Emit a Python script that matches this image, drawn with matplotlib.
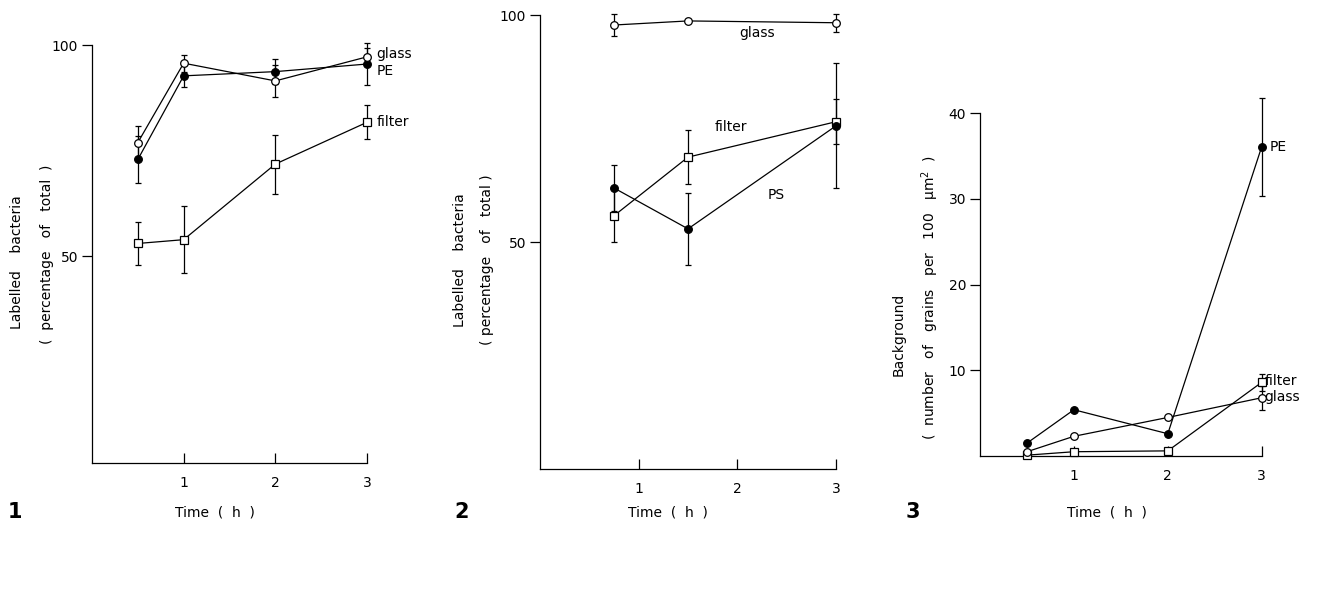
import matplotlib
matplotlib.use('Agg')
from matplotlib import pyplot as plt

plt.rcParams['font.family'] = 'DejaVu Sans'
plt.rcParams['font.size'] = 10

# Fig. 1 - labelled bacteria on glass / PE / filter
t1 = [0.5, 1, 2, 3]
glass1 = [76.9, 95.7, 91.5, 97.2]
glass1_err = [4.0, 2.0, 3.7, 2.0]
pe1 = [72.9, 92.7, 93.7, 95.5]
pe1_err = [5.5, 2.7, 3.0, 5.0]
filter1 = [53.0, 53.9, 71.8, 81.7]
filter1_err = [5.0, 8.0, 7.0, 4.0]

# Fig. 2 - labelled bacteria on glass / filter / PS
t2 = [0.75, 1.5, 3]
glass2 = [97.8, 98.7, 98.3]
glass2_err = [2.5, 0.0, 2.0]
filter2 = [55.8, 68.7, 76.5]
filter2_err = [5.8, 6.0, 5.0]
ps2 = [61.9, 52.9, 75.6]
ps2_err = [5.0, 8.0, 13.8]

# Fig. 3 - background grains
t3 = [0.5, 1, 2, 3]
pe3 = [1.5, 5.4, 2.6, 36.1]
pe3_err = [0, 0, 0, 5.7]
glass3 = [0.5, 2.3, 4.5, 6.8]
glass3_err = [0, 0, 0, 1.4]
filter3 = [0.1, 0.5, 0.6, 8.6]
filter3_err = [0, 0, 0, 1.0]

fig = plt.figure(figsize=(13.22, 5.94), dpi=100)


def series(ax, x, y, err, marker, face):
    ax.errorbar(x, y, yerr=err, color='black', lw=0.9, elinewidth=0.9,
                capsize=2, capthick=0.9, marker=marker, ms=5.5,
                mfc=face, mec='black', mew=0.9, clip_on=False, zorder=3)


def style(ax, yticks, ylim):
    for s in ['top', 'right']:
        ax.spines[s].set_visible(False)
    ax.spines['left'].set_linewidth(0.9)
    ax.spines['bottom'].set_linewidth(0.9)
    ax.set_xlim(0, 3)
    ax.set_ylim(*ylim)
    ax.set_xticks([1, 2, 3])
    ax.set_yticks(yticks)
    ax.tick_params(axis='x', direction='in', length=7, width=0.9, pad=9)
    ax.tick_params(axis='y', direction='out', length=7, width=0.9, pad=3)


# panel 1
ax1 = fig.add_axes([0.0696, 0.2205, 0.208, 0.7037])
series(ax1, t1, filter1, filter1_err, 's', 'white')
series(ax1, t1, pe1, pe1_err, 'o', 'black')
series(ax1, t1, glass1, glass1_err, 'o', 'white')
style(ax1, [50, 100], (1, 100))
ax1.text(3.1, 97.9, 'glass', va='center', ha='left')
ax1.text(3.1, 93.9, 'PE', va='center', ha='left')
ax1.text(3.1, 81.7, 'filter', va='center', ha='left')
ax1.text(-0.273, 0.48, 'Labelled    bacteria', rotation=90, transform=ax1.transAxes,
         ha='center', va='center')
ax1.text(-0.164, 0.50, '(  percentage   of   total  )', rotation=90,
         transform=ax1.transAxes, ha='center', va='center')

# panel 2
ax2 = fig.add_axes([0.4085, 0.2104, 0.2239, 0.7643])
series(ax2, t2, filter2, filter2_err, 's', 'white')
series(ax2, t2, ps2, ps2_err, 'o', 'black')
series(ax2, t2, glass2, glass2_err, 'o', 'white')
style(ax2, [50, 100], (0, 100))
ax2.text(2.2, 96.0, 'glass', va='center', ha='center')
ax2.text(1.93, 75.3, 'filter', va='center', ha='center')
ax2.text(2.39, 60.4, 'PS', va='center', ha='center')
ax2.text(-0.27, 0.46, 'Labelled    bacteria', rotation=90, transform=ax2.transAxes,
         ha='center', va='center')
ax2.text(-0.18, 0.46, '( percentage   of   total )', rotation=90,
         transform=ax2.transAxes, ha='center', va='center')

# panel 3
ax3 = fig.add_axes([0.7413, 0.2323, 0.2131, 0.577])
series(ax3, t3, filter3, filter3_err, 's', 'white')
series(ax3, t3, pe3, pe3_err, 'o', 'black')
series(ax3, t3, glass3, glass3_err, 'o', 'white')
style(ax3, [10, 20, 30, 40], (0, 40))
ax3.text(3.08, 36.1, 'PE', va='center', ha='left')
ax3.text(3.03, 8.7, 'filter', va='center', ha='left')
ax3.text(3.03, 6.9, 'glass', va='center', ha='left')
ax3.text(-0.29, 0.356, 'Background', rotation=90, transform=ax3.transAxes,
         ha='center', va='center')
ax3.text(-0.177, 0.461, '(  number   of   grains   per   100   \u03bcm$^2$  )', rotation=90,
         transform=ax3.transAxes, ha='center', va='center')

# x labels and panel numbers
for xc, num, xn in [(215, '1', 15), (668, '2', 462), (1107, '3', 913)]:
    fig.text(xc / 1322, 1 - 512 / 594, 'Time  (  h  )', ha='center', va='center')
    fig.text(xn / 1322, 1 - 512 / 594, num, ha='center', va='center',
             fontsize=15, fontweight='bold')

fig.savefig('out.png', dpi=100)
